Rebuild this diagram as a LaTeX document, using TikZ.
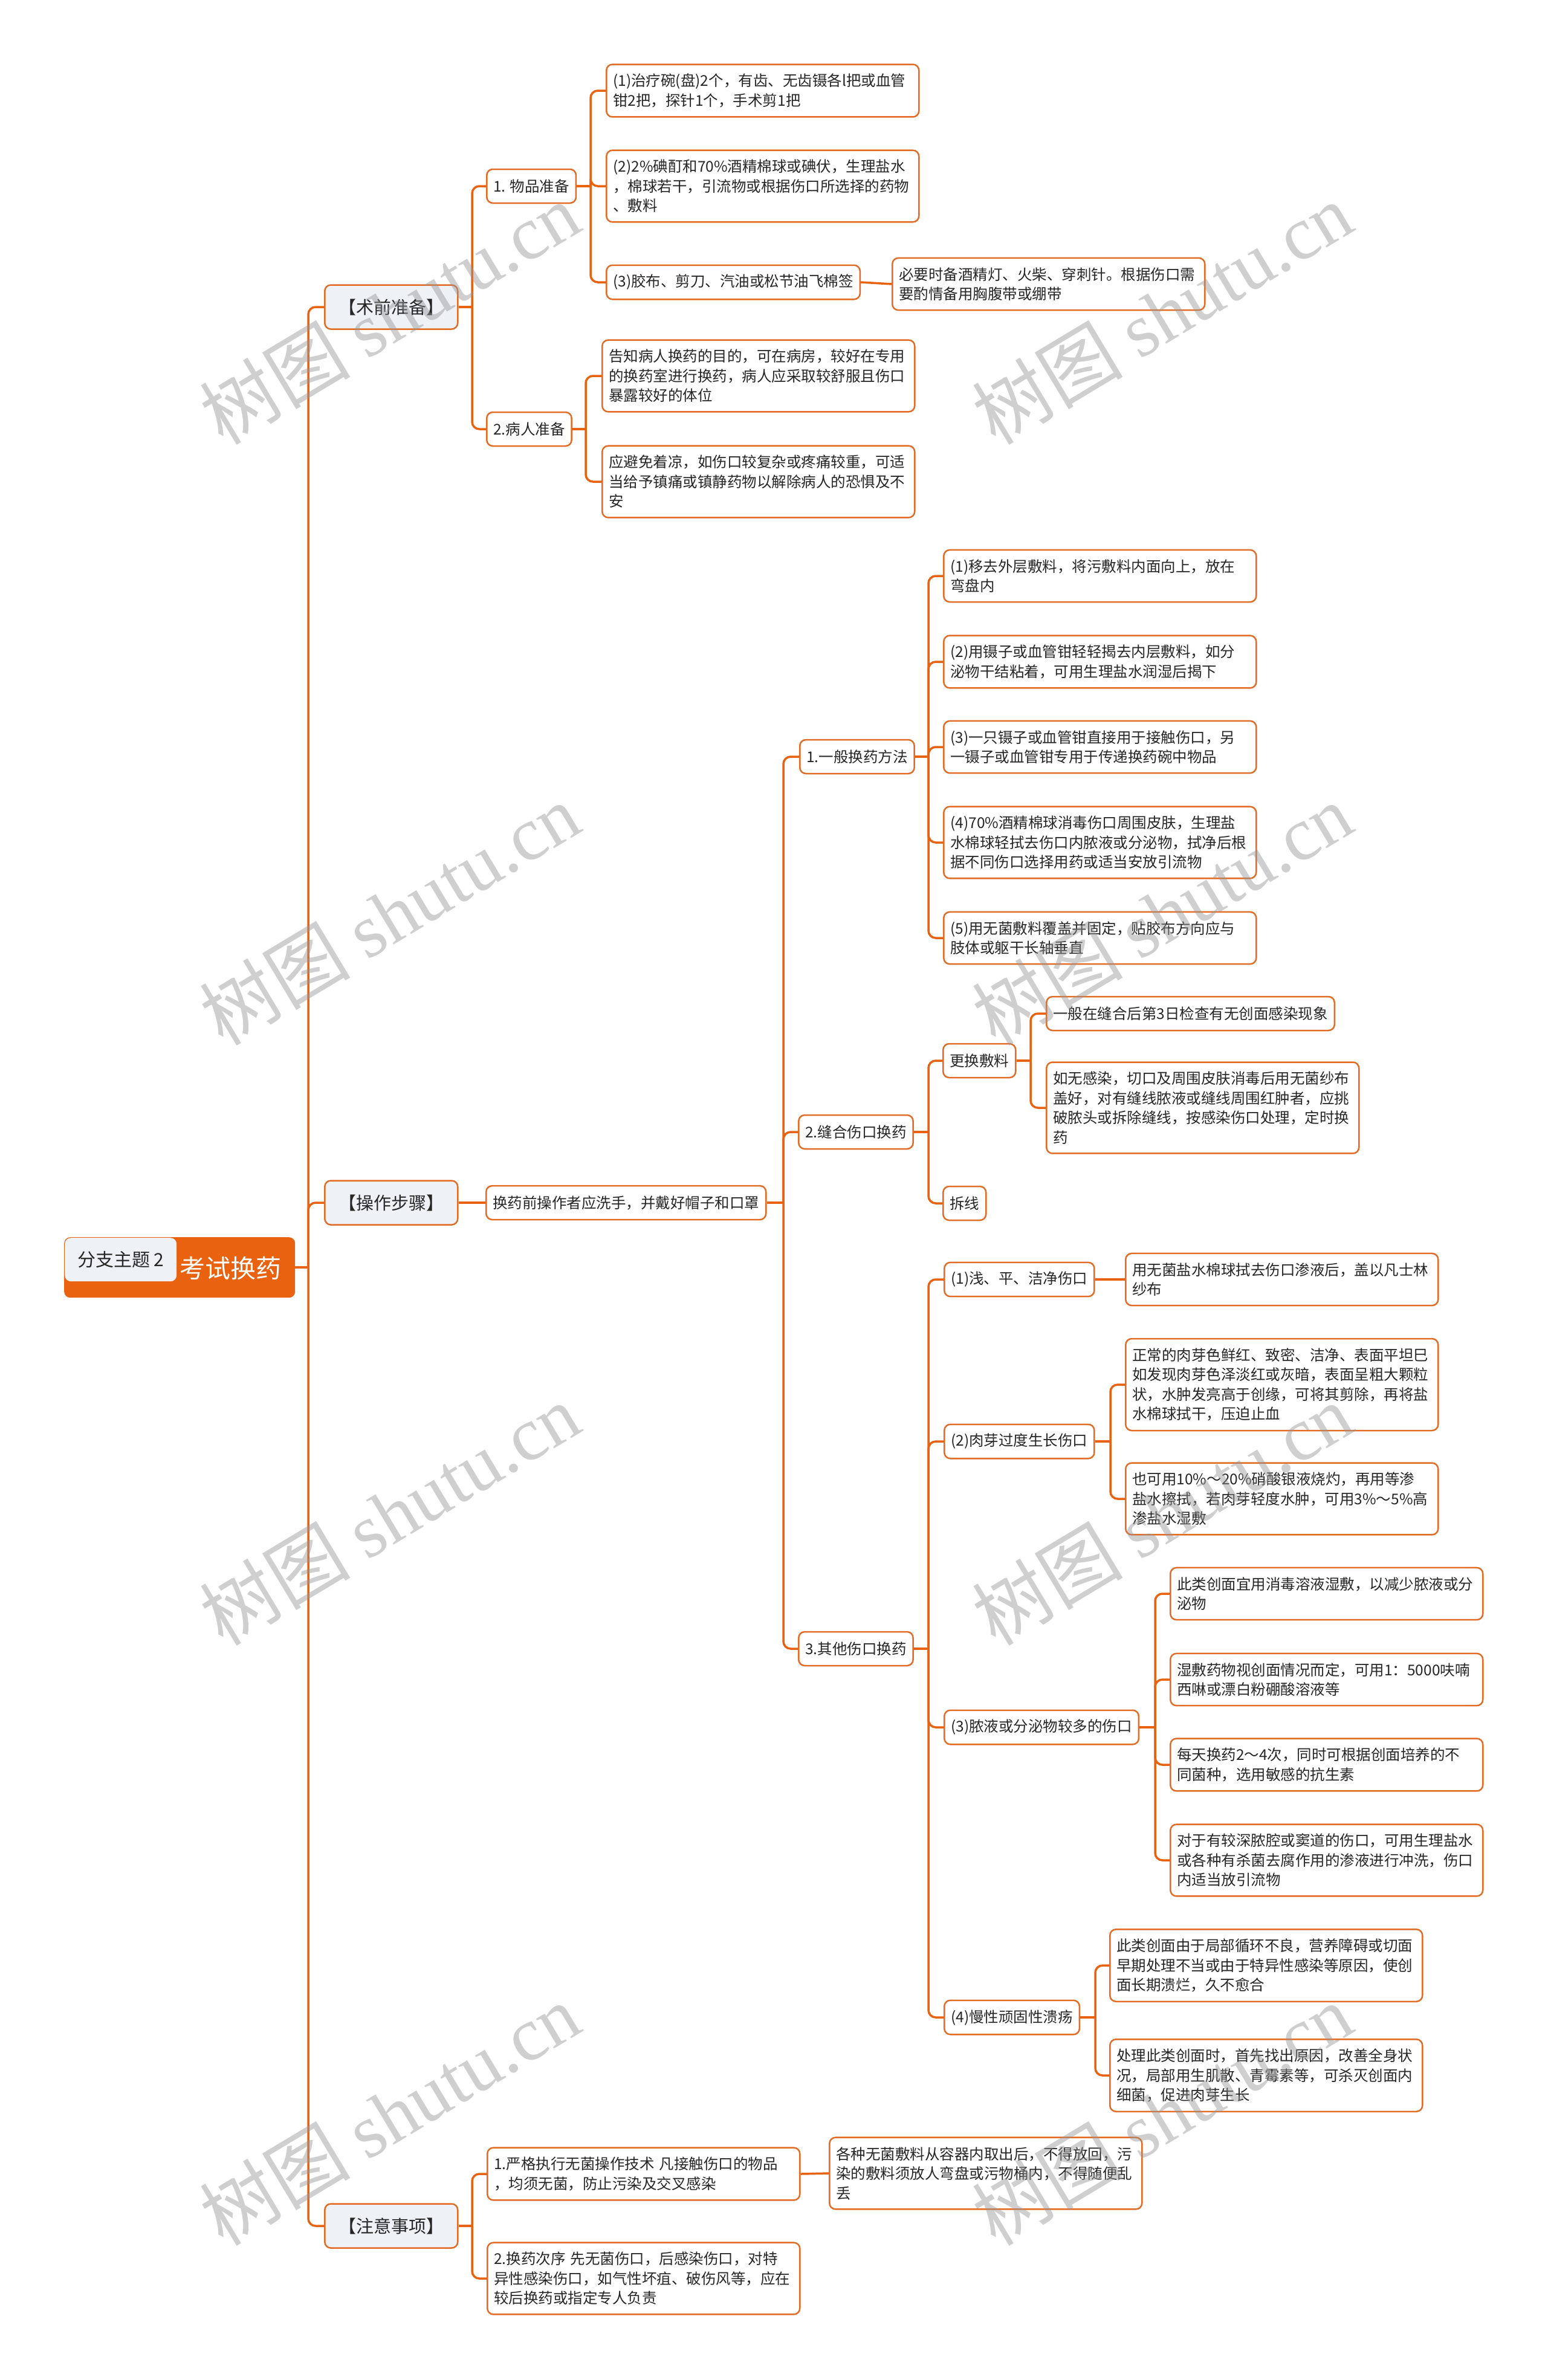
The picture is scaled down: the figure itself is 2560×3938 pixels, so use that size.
\documentclass[tikz,border=0pt]{standalone}
\usepackage{fontspec}
\setmainfont{Noto Sans CJK SC}
\newfontfamily\wmlatin{Liberation Serif}
\definecolor{org}{RGB}{232,98,16}
\definecolor{bord}{RGB}{226,108,38}
\definecolor{lvlone}{RGB}{238,241,245}
\definecolor{txt}{RGB}{38,38,38}
\definecolor{wmc}{RGB}{150,150,150}
\tikzset{
  conn/.style={draw=org, line width=3.5pt, rounded corners=12pt},
  box/.style={draw=bord, line width=2.5pt, rounded corners=10pt, fill=white, text=txt,
    font=\fontsize{24.5pt}{32.5pt}\selectfont, inner xsep=11pt, inner ysep=15.5pt, anchor=west},
  leaf/.style={box, text width=495pt, align=left},
  mid/.style={box, minimum height=56pt},
  topbox/.style={box, fill=lvlone, font=\fontsize{29pt}{36pt}\selectfont, minimum width=220pt,
    minimum height=73pt, inner xsep=0pt},
  rootbox/.style={fill=org, draw=none, rounded corners=10pt, inner sep=0pt},
  rootlab/.style={fill=lvlone, draw=none, rounded corners=10pt, inner sep=0pt, text=txt,
    font=\fontsize{30pt}{36pt}\selectfont},
  wmark/.style={text=wmc, text opacity=0.45, font=\fontsize{125pt}{130pt}\selectfont, rotate=31, inner sep=0pt}
}
\begin{document}
\begin{tikzpicture}[x=1pt,y=-1pt]
\useasboundingbox (0,0) rectangle (2560,3938);
\fill[white] (0,0) rectangle (2560,3938);

% junction x positions
\coordinate (xT) at (510,0);
\coordinate (xA) at (781,0);
\coordinate (xB) at (977,0);
\coordinate (xC) at (969,0);
\coordinate (xD) at (1296,0);
\coordinate (xE) at (1536,0);
\coordinate (xF) at (1705,0);
\coordinate (xG) at (1837,0);
\coordinate (xH) at (1911,0);
\coordinate (xI) at (1812,0);

% root
\node[rootbox, anchor=north west, minimum width=382pt, minimum height=100pt] (root) at (106,2047) {};
\node[rootlab, anchor=north west, minimum width=185pt, minimum height=72pt] (rootlab) at (107,2048) {分支主题 2};
\node[text=white, font=\fontsize{42pt}{50pt}\selectfont, inner sep=0pt] (roottitle) at (381,2098) {考试换药};

% level 1
\node[topbox] (t1) at (536,508) {【术前准备】};
\node[topbox] (t2) at (536,1990) {【操作步骤】};
\node[topbox] (t3) at (536,3683) {【注意事项】};

% 术前准备
\node[mid] (n1) at (804,308) {1. 物品准备};
\node[mid] (n2) at (804,710) {2.病人准备};
\node[leaf] (a1) at (1002,150) {(1)治疗碗(盘)2个，有齿、无齿镊各l把或血管\\钳2把，探针1个，手术剪1把};
\node[leaf] (a2) at (1002,308) {(2)2\%碘酊和70\%酒精棉球或碘伏，生理盐水\\，棉球若干，引流物或根据伤口所选择的药物\\、敷料};
\node[mid] (a3) at (1002,467) {(3)胶布、剪刀、汽油或松节油飞棉签};
\node[leaf] (a4) at (1475,470) {必要时备酒精灯、火柴、穿刺针。根据伤口需\\要酌情备用胸腹带或绷带};
\node[leaf] (c1) at (995,622) {告知病人换药的目的，可在病房，较好在专用\\的换药室进行换药，病人应采取较舒服且伤口\\暴露较好的体位};
\node[leaf] (c2) at (995,797) {应避免着凉，如伤口较复杂或疼痛较重，可适\\当给予镇痛或镇静药物以解除病人的恐惧及不\\安};

% 操作步骤
\node[mid] (m1) at (803,1990) {换药前操作者应洗手，并戴好帽子和口罩};
\node[mid] (g1) at (1322,1252) {1.一般换药方法};
\node[mid] (g2) at (1320,1873) {2.缝合伤口换药};
\node[mid] (g3) at (1320,2728) {3.其他伤口换药};

\node[leaf] (e1) at (1560,953) {(1)移去外层敷料，将污敷料内面向上，放在\\弯盘内};
\node[leaf] (e2) at (1560,1095) {(2)用镊子或血管钳轻轻揭去内层敷料，如分\\泌物干结粘着，可用生理盐水润湿后揭下};
\node[leaf] (e3) at (1560,1236) {(3)一只镊子或血管钳直接用于接触伤口，另\\一镊子或血管钳专用于传递换药碗中物品};
\node[leaf] (e4) at (1560,1394) {(4)70\%酒精棉球消毒伤口周围皮肤，生理盐\\水棉球轻拭去伤口内脓液或分泌物，拭净后根\\据不同伤口选择用药或适当安放引流物};
\node[leaf] (e5) at (1560,1552) {(5)用无菌敷料覆盖并固定，贴胶布方向应与\\肢体或躯干长轴垂直};

\node[mid] (h1) at (1559,1755) {更换敷料};
\node[mid] (h2) at (1559,1991) {拆线};
\node[mid] (i1) at (1730,1677) {一般在缝合后第3日检查有无创面感染现象};
\node[leaf] (i2) at (1730,1833) {如无感染，切口及周围皮肤消毒后用无菌纱布\\盖好，对有缝线脓液或缝线周围红肿者，应挑\\破脓头或拆除缝线，按感染伤口处理，定时换\\药};

\node[mid] (k1) at (1561,2117) {(1)浅、平、洁净伤口};
\node[mid] (k2) at (1561,2385) {(2)肉芽过度生长伤口};
\node[mid] (k3) at (1561,2858) {(3)脓液或分泌物较多的伤口};
\node[mid] (k4) at (1561,3338) {(4)慢性顽固性溃疡};

\node[leaf] (l1) at (1861,2117) {用无菌盐水棉球拭去伤口渗液后，盖以凡士林\\纱布};
\node[leaf] (l2) at (1861,2291) {正常的肉芽色鲜红、致密、洁净、表面平坦巳\\如发现肉芽色泽淡红或灰暗，表面呈粗大颗粒\\状，水肿发亮高于创缘，可将其剪除，再将盐\\水棉球拭干，压迫止血};
\node[leaf] (l3) at (1861,2480) {也可用10\%～20\%硝酸银液烧灼，再用等渗\\盐水擦拭，若肉芽轻度水肿，可用3\%～5\%高\\渗盐水湿敷};
\node[leaf] (l4) at (1935,2637) {此类创面宜用消毒溶液湿敷，以减少脓液或分\\泌物};
\node[leaf] (l5) at (1935,2779) {湿敷药物视创面情况而定，可用1：5000呋喃\\西啉或漂白粉硼酸溶液等};
\node[leaf] (l6) at (1935,2920) {每天换药2～4次，同时可根据创面培养的不\\同菌种，选用敏感的抗生素};
\node[leaf] (l7) at (1935,3078) {对于有较深脓腔或窦道的伤口，可用生理盐水\\或各种有杀菌去腐作用的渗液进行冲洗，伤口\\内适当放引流物};
\node[leaf] (l8) at (1835,3252) {此类创面由于局部循环不良，营养障碍或切面\\早期处理不当或由于特异性感染等原因，使创\\面长期溃烂，久不愈合};
\node[leaf] (l9) at (1835,3434) {处理此类创面时，首先找出原因，改善全身状\\况，局部用生肌散、青霉素等，可杀灭创面内\\细菌，促进肉芽生长};

% 注意事项
\node[leaf] (z1) at (805,3597) {1.严格执行无菌操作技术 凡接触伤口的物品\\，均须无菌，防止污染及交叉感染};
\node[leaf] (z2) at (805,3770) {2.换药次序 先无菌伤口，后感染伤口，对特\\异性感染伤口，如气性坏疽、破伤风等，应在\\较后换药或指定专人负责};
\node[leaf] (z3) at (1371,3596) {各种无菌敷料从容器内取出后，不得放回，污\\染的敷料须放人弯盘或污物桶内，不得随便乱\\丢};

% connectors: trunk
\draw[conn] (root.east) -- (root.east -| xT);
\foreach \c in {t1,t2,t3} \draw[conn] (root.east -| xT) |- (\c.west);
% 术前准备
\draw[conn] (t1.east) -- (t1.east -| xA);
\foreach \c in {n1,n2} \draw[conn] (t1.east -| xA) |- (\c.west);
\draw[conn] (n1.east) -- (n1.east -| xB);
\foreach \c in {a1,a2,a3} \draw[conn] (n1.east -| xB) |- (\c.west);
\draw[conn] (a3.east) -- (a4.west);
\draw[conn] (n2.east) -- (n2.east -| xC);
\foreach \c in {c1,c2} \draw[conn] (n2.east -| xC) |- (\c.west);
% 操作步骤
\draw[conn] (t2.east) -- (m1.west);
\draw[conn] (m1.east) -- (m1.east -| xD);
\foreach \c in {g1,g2,g3} \draw[conn] (m1.east -| xD) |- (\c.west);
\draw[conn] (g1.east) -- (g1.east -| xE);
\foreach \c in {e1,e2,e3,e4,e5} \draw[conn] (g1.east -| xE) |- (\c.west);
\draw[conn] (g2.east) -- (g2.east -| xE);
\foreach \c in {h1,h2} \draw[conn] (g2.east -| xE) |- (\c.west);
\draw[conn] (h1.east) -- (h1.east -| xF);
\foreach \c in {i1,i2} \draw[conn] (h1.east -| xF) |- (\c.west);
\draw[conn] (g3.east) -- (g3.east -| xE);
\foreach \c in {k1,k2,k3,k4} \draw[conn] (g3.east -| xE) |- (\c.west);
\draw[conn] (k1.east) -- (l1.west);
\draw[conn] (k2.east) -- (k2.east -| xG);
\foreach \c in {l2,l3} \draw[conn] (k2.east -| xG) |- (\c.west);
\draw[conn] (k3.east) -- (k3.east -| xH);
\foreach \c in {l4,l5,l6,l7} \draw[conn] (k3.east -| xH) |- (\c.west);
\draw[conn] (k4.east) -- (k4.east -| xI);
\foreach \c in {l8,l9} \draw[conn] (k4.east -| xI) |- (\c.west);
% 注意事项
\draw[conn] (t3.east) -- (t3.east -| xA);
\foreach \c in {z1,z2} \draw[conn] (t3.east -| xA) |- (\c.west);
\draw[conn] (z1.east) -- (z3.west);

% watermarks
\node[wmark] (w1) at (644,518) {树图 {\wmlatin shutu.cn}};
\node[wmark] (w2) at (1922,518) {树图 {\wmlatin shutu.cn}};
\node[wmark] (w3) at (644,1512) {树图 {\wmlatin shutu.cn}};
\node[wmark] (w4) at (1922,1512) {树图 {\wmlatin shutu.cn}};
\node[wmark] (w5) at (644,2505) {树图 {\wmlatin shutu.cn}};
\node[wmark] (w6) at (1922,2505) {树图 {\wmlatin shutu.cn}};
\node[wmark] (w7) at (644,3498) {树图 {\wmlatin shutu.cn}};
\node[wmark] (w8) at (1922,3498) {树图 {\wmlatin shutu.cn}};
\end{tikzpicture}
\end{document}
